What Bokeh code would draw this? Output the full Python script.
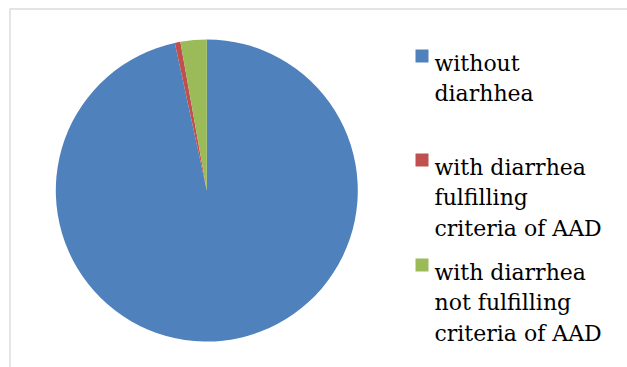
import numpy as np
from bokeh.plotting import figure
from bokeh.models import Range1d, BoxAnnotation, ColumnDataSource, Label
from bokeh.embed import file_html
from bokeh.resources import INLINE

# Share of patients (%)
categories = [
    "without\ndiarhhea",
    "with diarrhea\nfulfilling\ncriteria of AAD",
    "with diarrhea\nnot fulfilling\ncriteria of AAD",
]
shares = [96.6, 0.6, 2.8]
colors = ["#4F81BD", "#C0504D", "#9BBB59"]

W, H = 627, 367
p = figure(width=W, height=H, output_backend="svg", toolbar_location=None,
           x_range=Range1d(0, W), y_range=Range1d(0, H),
           min_border=0, outline_line_color=None)
p.axis.visible = False
p.grid.visible = False
p.background_fill_color = "white"
p.border_fill_color = "white"

# Chart area frame (left and top edges visible)
p.add_layout(BoxAnnotation(left=9.5, right=W + 20, bottom=-20, top=H - 8.5,
                           fill_alpha=0, line_color="#8a8a8a", line_width=1.5))

# Pie: first slice starts at 12 o'clock, slices go clockwise
frac = np.array(shares) / np.sum(shares)
cum = np.concatenate([[0], np.cumsum(frac)])
a_from = np.pi / 2 - 2 * np.pi * cum[:-1]
a_to = np.pi / 2 - 2 * np.pi * cum[1:]
cx, cy, r = 206.3, H - 190.0, 151.0
src = ColumnDataSource(dict(start=a_to, end=a_from, color=colors))
p.wedge(x=cx, y=cy, radius=r, start_angle="start", end_angle="end",
        fill_color="color", line_color=None, source=src)

# Legend
entry_top = [45, 149, 254]
line_h = 30.3
sq = 13
for top, label, col in zip(entry_top, categories, colors):
    p.rect(x=415 + sq / 2, y=H - (top + 4 + sq / 2), width=sq, height=sq,
           fill_color=col, line_color=None)
    for i, line in enumerate(label.split("\n")):
        p.add_layout(Label(x=434, y=H - (top + 18 + i * line_h), text=line,
                           text_font="DejaVu Serif", text_font_size="22px",
                           text_color="black", text_baseline="alphabetic",
                           text_align="left"))

open("out.html", "w").write(file_html(p, INLINE))
